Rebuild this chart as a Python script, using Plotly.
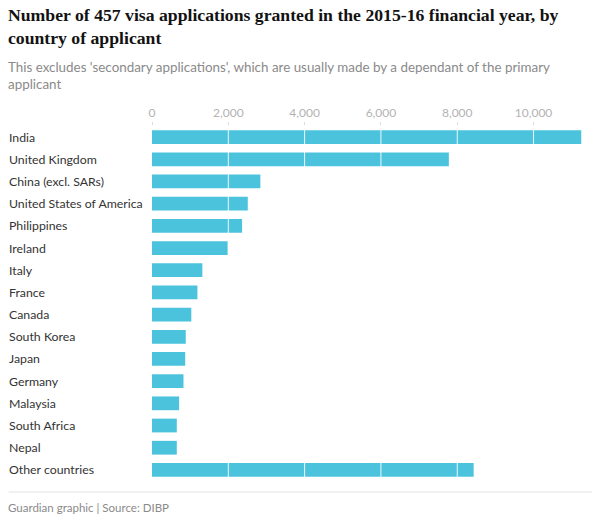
import plotly.graph_objects as go

# --- datos ---
paises = [
    "India", "United Kingdom", "China (excl. SARs)", "United States of America",
    "Philippines", "Ireland", "Italy", "France", "Canada", "South Korea",
    "Japan", "Germany", "Malaysia", "South Africa", "Nepal", "Other countries",
]
visas = [11250, 7780, 2840, 2510, 2360, 1985, 1320, 1190, 1030, 885,
         870, 825, 710, 650, 650, 8430]
ticks_x = [0, 2000, 4000, 6000, 8000, 10000]
ticks_txt = ["0", "2,000", "4,000", "6,000", "8,000", "10,000"]

titulo = "<b>Number of 457 visa applications granted in the 2015-16 financial year, by<br>country of applicant</b>"
subtitulo = "This excludes 'secondary applications', which are usually made by a dependant of the primary<br>applicant"
pie = "Guardian graphic | Source: DIBP"

AZUL = "#4bc3dd"

# posicion del area de trazado en pixeles
L, R, T, B = 151.5, 582, 126, 481
W, H = R - L, B - T

def px(x):
    return (x - L) / W

def py(y):
    return (B - y) / H

fig = go.Figure()
fig.add_trace(go.Bar(
    y=paises, x=visas, orientation="h",
    marker_color=AZUL, marker_line_width=0, width=0.62,
    hoverinfo="x+y",
))

# lineas blancas sobre las barras
for v in ticks_x[1:]:
    fig.add_vline(x=v, line_color="white", line_width=1, opacity=0.9)

# etiquetas de paises alineadas a la izquierda
for p in paises:
    fig.add_annotation(x=px(6), xref="paper", y=p, yref="y", text=p,
                       showarrow=False, xanchor="left", yanchor="middle",
                       font=dict(family="Lato", size=12.3, color="#333333"))

fig.add_annotation(x=px(5), y=py(3), xref="paper", yref="paper", text=titulo,
                   showarrow=False, xanchor="left", yanchor="top", align="left",
                   font=dict(family="Liberation Serif", size=17.7, color="#121212"))
fig.add_annotation(x=px(5), y=py(57), xref="paper", yref="paper", text=subtitulo,
                   showarrow=False, xanchor="left", yanchor="top", align="left",
                   font=dict(family="Lato", size=13.4, color="#8a8a8a"))
fig.add_annotation(x=px(5), y=py(499), xref="paper", yref="paper", text=pie,
                   showarrow=False, xanchor="left", yanchor="top", align="left",
                   font=dict(family="Lato", size=11.5, color="#8a8a8a"))

fig.add_shape(type="line", xref="paper", yref="paper",
              x0=px(8), x1=px(592), y0=py(492), y1=py(492),
              line=dict(color="#e3e3e3", width=1))

fig.update_layout(
    width=600, height=522,
    margin=dict(l=L, r=600 - R, t=T, b=522 - B),
    plot_bgcolor="white", paper_bgcolor="white",
    showlegend=False, bargap=0.38,
    font=dict(family="Lato"),
)
fig.update_xaxes(
    side="top", range=[0, W / 38.2 * 1000],
    tickvals=ticks_x, ticktext=ticks_txt,
    tickfont=dict(family="Lato", size=12, color="#b3b3b3"),
    showgrid=False, zeroline=False, showline=False,
    ticks="outside", ticklen=3, tickcolor="#dddddd",
)
fig.update_yaxes(
    autorange="reversed", showticklabels=False, showgrid=False,
    zeroline=False, showline=False,
)

fig.write_html("out.html", config={"displayModeBar": False},
               post_script="document.body.style.margin='0';")
